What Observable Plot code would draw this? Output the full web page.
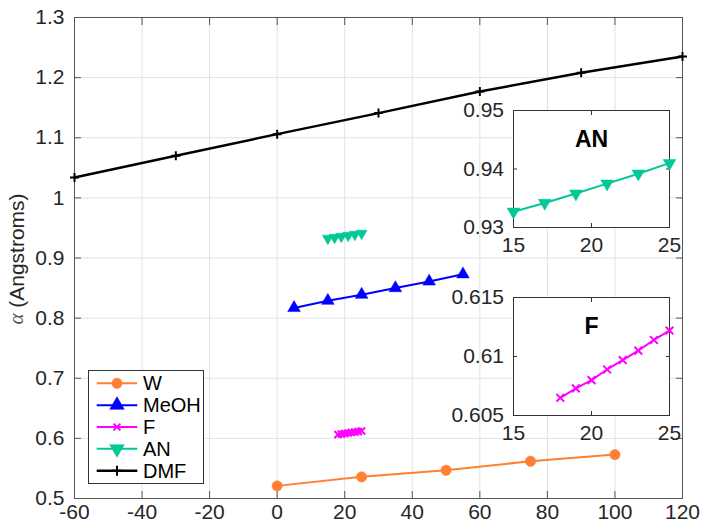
<!DOCTYPE html>
<html><head><meta charset="utf-8">
<script src="https://cdn.jsdelivr.net/npm/d3@7"></script>
<script src="https://cdn.jsdelivr.net/npm/@observablehq/plot@0.6"></script>
<style>
body{margin:0;background:#fff;}
#wrap{position:relative;width:702px;height:527px;font-family:"Liberation Sans",Arial,Helvetica,sans-serif;}
#wrap svg{overflow:visible;}
</style></head><body><div id="wrap"></div>
<script>
const seriesNames = ["W","MeOH","F","AN","DMF"];
const colors = ["#ff8033","#0000ff","#ff00ff","#00c896","#000000"];
const wX = [0,25,50,75,100];
const wY = [0.521,0.536,0.547,0.562,0.573];
const meohX = [5,15,25,35,45,55];
const meohY = [0.817,0.829,0.839,0.850,0.861,0.873];
const fX = [18,19,20,21,22,23,24,25];
const fY = [0.6065,0.6073,0.6080,0.6089,0.6097,0.6105,0.6114,0.6122];
const anX = [15,17,19,21,23,25];
const anY = [0.9327,0.9342,0.9358,0.9375,0.9392,0.9410];
const dmfX = [-60,-30,0,30,60,90,120];
const dmfY = [1.034,1.070,1.106,1.141,1.177,1.208,1.235];
const xTicks = [-60,-40,-20,0,20,40,60,80,100,120];
const yTicks = [0.5,0.6,0.7,0.8,0.9,1,1.1,1.2,1.3];
const insetXTicks = [15,20,25];
const anYTicks = [0.93,0.94,0.95];
const fYTicks = [0.605,0.61,0.615];

const FONT = '"Liberation Sans",Arial,Helvetica,sans-serif';
const triangleDown = {
  draw(context, size) {
    const y = Math.sqrt(size / (Math.sqrt(3) * 3));
    context.moveTo(0, y * 2);
    context.lineTo(-Math.sqrt(3) * y, -y);
    context.lineTo(Math.sqrt(3) * y, -y);
    context.closePath();
  }
};
const zip = (xs, ys) => xs.map((x, i) => ({x, y: ys[i]}));
const series = [
  {name: seriesNames[0], data: zip(wX, wY), color: colors[0], symbol: d3.symbolCircle, r: 5.2, filled: true, lw: 2},
  {name: seriesNames[1], data: zip(meohX, meohY), color: colors[1], symbol: d3.symbolTriangle, r: 4.7, filled: true, lw: 2},
  {name: seriesNames[2], data: zip(fX, fY), color: colors[2], symbol: d3.symbolTimes, r: 3.3, filled: false, lw: 2},
  {name: seriesNames[3], data: zip(anX, anY), color: colors[3], symbol: triangleDown, r: 4.1, filled: true, lw: 2},
  {name: seriesNames[4], data: zip(dmfX, dmfY), color: colors[4], symbol: d3.symbolPlus, r: 3, filled: false, lw: 2.5}
];

function seriesMarks(s, r) {
  return [
    Plot.line(s.data, {x: "x", y: "y", stroke: s.color, strokeWidth: s.lw}),
    Plot.dot(s.data, {x: "x", y: "y", symbol: s.symbol, r: r ?? s.r,
      fill: s.filled ? s.color : "none", stroke: s.color, strokeWidth: s.filled ? 0.5 : 2})
  ];
}
function boxTicks(xt, yt, len, color) {
  const c = {tickSize: len, tickFormat: () => "", label: null, stroke: color};
  return [
    Plot.axisX(xt, {...c, anchor: "bottom", dy: -len}),
    Plot.axisX(xt, {...c, anchor: "top", dy: len}),
    Plot.axisY(yt, {...c, anchor: "left", dx: len}),
    Plot.axisY(yt, {...c, anchor: "right", dx: -len})
  ];
}
const fmt = d => String(d);

const wrap = document.getElementById("wrap");

const main = Plot.plot({
  width: 702, height: 527,
  marginLeft: 74, marginRight: 20, marginTop: 17, marginBottom: 29,
  x: {domain: [-60, 120]},
  y: {domain: [0.5, 1.3]},
  style: {fontSize: "21px", fontFamily: FONT, background: "transparent", overflow: "visible"},
  marks: [
    Plot.gridX(xTicks, {stroke: "#e2e2e2", strokeOpacity: 1}),
    Plot.gridY(yTicks, {stroke: "#e2e2e2", strokeOpacity: 1}),
    ...boxTicks(xTicks, yTicks, 7, "#555"),
    Plot.frame({stroke: "#555"}),
    ...series.flatMap(s => seriesMarks(s)),
    Plot.axisX(xTicks, {anchor: "bottom", tickSize: 0, tickPadding: 6, tickFormat: fmt, label: null, fill: "#262626", fontSize: 21}),
    Plot.axisY(yTicks, {anchor: "left", tickSize: 0, tickPadding: 10, tickFormat: fmt, label: null, fill: "#262626", fontSize: 21})
  ]
});
main.style.position = "absolute";
main.style.left = "0px";
main.style.top = "0px";
wrap.appendChild(main);

// y-axis label with italic alpha
const yl = d3.select(main).append("text")
  .attr("transform", "translate(16,259) rotate(-90)")
  .attr("text-anchor", "middle")
  .attr("dominant-baseline", "central")
  .attr("fill", "#262626")
  .style("font-size", "21px")
  .style("font-family", FONT);
yl.append("tspan").text("α").style("font-family", '"Liberation Serif","DejaVu Serif",serif').style("font-style", "italic").attr("fill", "#555");
yl.append("tspan").text(" (Angstroms)");

function inset(s, yDomain, yt, title, left, top, frameH, r) {
  const h = 10 + frameH + 35;
  const p = Plot.plot({
    width: 236, height: h,
    marginLeft: 60, marginRight: 20, marginTop: 10, marginBottom: 35,
    x: {domain: [15, 25]},
    y: {domain: yDomain},
    style: {fontSize: "21px", fontFamily: FONT, background: "transparent", overflow: "visible"},
    marks: [
      Plot.frame({fill: "white", stroke: "#333"}),
      ...boxTicks(insetXTicks, yt, 4, "#333"),
      Plot.text([title], {text: d => d, frameAnchor: "top", dy: 20, fontWeight: "bold", fontSize: 23, fill: "#000"}),
      ...seriesMarks(s, r),
      Plot.axisX(insetXTicks, {anchor: "bottom", tickSize: 0, tickPadding: 10, tickFormat: fmt, label: null, fill: "#262626", fontSize: 21}),
      Plot.axisY(yt, {anchor: "left", tickSize: 0, tickPadding: 9.5, tickFormat: fmt, label: null, fill: "#262626", fontSize: 21})
    ]
  });
  p.style.position = "absolute";
  p.style.left = left + "px";
  p.style.top = top + "px";
  wrap.appendChild(p);
}
inset(series[3], [0.93, 0.95], anYTicks, "AN", 453, 100, 117, 4.7);
inset(series[2], [0.605, 0.615], fYTicks, "F", 453, 287, 118, 3.6);

// legend
const lg = d3.select(wrap).append("svg")
  .attr("width", 116).attr("height", 114)
  .style("position", "absolute").style("left", "88px").style("top", "370px")
  .style("overflow", "visible");
lg.append("rect").attr("x", 0.5).attr("y", 0.5).attr("width", 115).attr("height", 113)
  .attr("fill", "white").attr("stroke", "#333");
const legendR = [5.2, 5.4, 3.2, 5.4, 3.3];
series.forEach((s, i) => {
  const cy = 13.3 + i * 21.85;
  lg.append("line").attr("x1", 8.7).attr("x2", 49.3).attr("y1", cy).attr("y2", cy)
    .attr("stroke", s.color).attr("stroke-width", s.lw);
  lg.append("path").attr("transform", `translate(29,${cy})`)
    .attr("d", d3.symbol(s.symbol, Math.PI * legendR[i] * legendR[i])())
    .attr("fill", s.filled ? s.color : "none").attr("stroke", s.color)
    .attr("stroke-width", s.filled ? 0.5 : 2);
  lg.append("text").attr("x", 55).attr("y", cy).attr("dominant-baseline", "central")
    .attr("fill", "#000").style("font-size", "20px").style("font-family", FONT).text(s.name);
});
</script></body></html>
